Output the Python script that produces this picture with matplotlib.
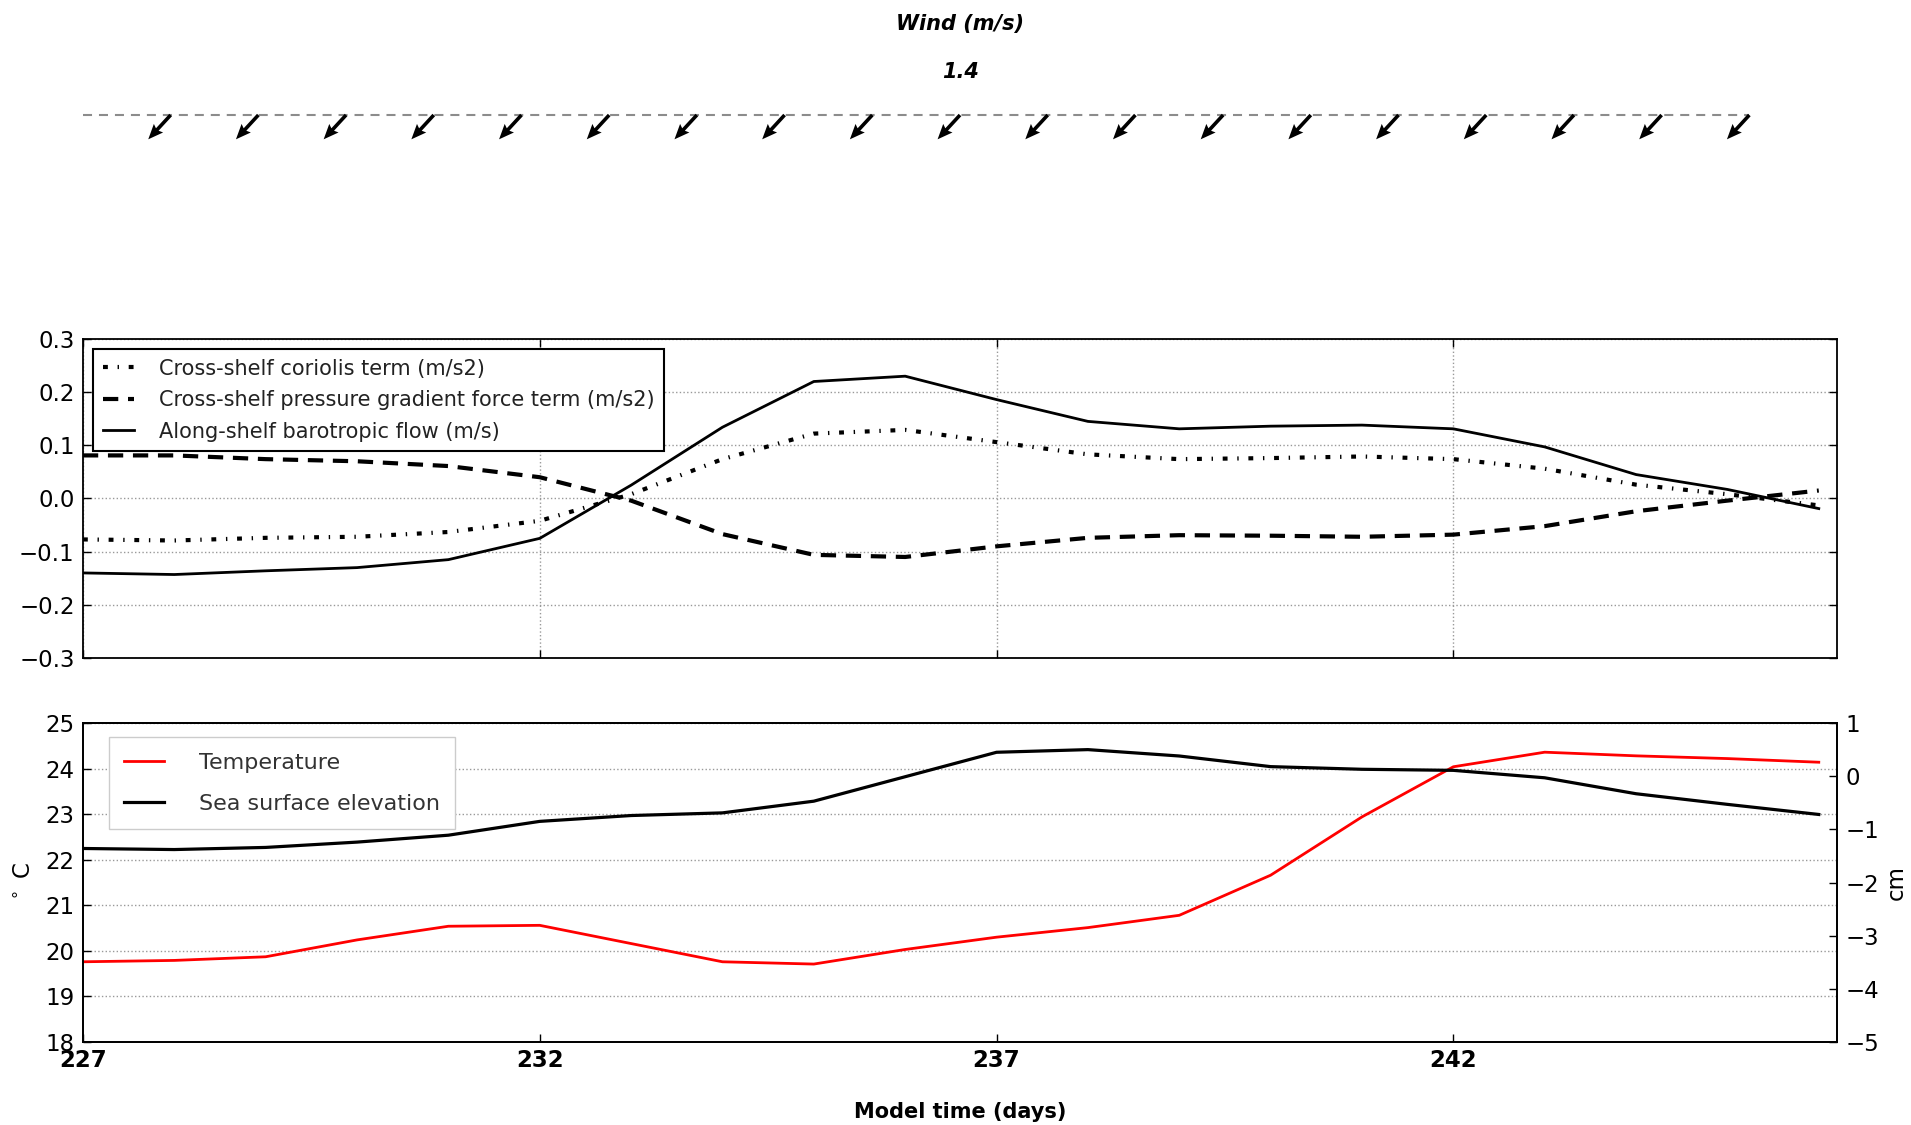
import numpy as np
import matplotlib
matplotlib.use("Agg")
import matplotlib.pyplot as plt

plt.rcParams['lines.scale_dashes'] = False
plt.rcParams['font.family'] = ['DejaVu Sans']

# model days (x)
days = [227, 228, 229, 230, 231, 232, 233, 234, 235, 236,
        237, 238, 239, 240, 241, 242, 243, 244, 245, 246]

# middle panel series
coriolis = [-0.077, -0.079, -0.074, -0.072, -0.063, -0.042, 0.008, 0.074, 0.122, 0.129,
            0.106, 0.083, 0.074, 0.076, 0.079, 0.074, 0.056, 0.026, 0.008, -0.013]
pgf = [0.081, 0.081, 0.074, 0.070, 0.061, 0.040, -0.004, -0.067, -0.106, -0.110,
       -0.090, -0.074, -0.069, -0.070, -0.072, -0.068, -0.052, -0.024, -0.004, 0.015]
flow = [-0.140, -0.143, -0.136, -0.130, -0.115, -0.075, 0.025, 0.134, 0.220, 0.230,
        0.186, 0.145, 0.131, 0.136, 0.138, 0.131, 0.097, 0.045, 0.017, -0.019]

# bottom panel series
temp = [19.76, 19.79, 19.87, 20.24, 20.54, 20.56, 20.16, 19.76, 19.71, 20.03,
        20.30, 20.51, 20.78, 21.66, 22.94, 24.04, 24.36, 24.28, 24.22, 24.14]
sse = [-1.36, -1.38, -1.34, -1.24, -1.11, -0.85, -0.74, -0.69, -0.47, -0.01,
       0.45, 0.50, 0.38, 0.18, 0.13, 0.11, -0.03, -0.33, -0.53, -0.72]

# wind vectors (m/s)
wind_days = [228, 229, 230, 231, 232, 233, 234, 235, 236, 237,
             238, 239, 240, 241, 242, 243, 244, 245, 246]
wind_u = [-0.95, -0.95, -0.95, -0.95, -0.95, -0.95, -0.95, -0.95, -0.95, -0.95,
          -0.95, -0.95, -0.95, -0.95, -0.95, -0.95, -0.95, -0.95, -0.95]
wind_v = [-1.03, -1.03, -1.03, -1.03, -1.03, -1.03, -1.03, -1.03, -1.03, -1.03,
          -1.03, -1.03, -1.03, -1.03, -1.03, -1.03, -1.03, -1.03, -1.03]
wind_speed = 1.4

xticks = [227, 232, 237, 242]
tick_fs = 16.5
grid_kw = dict(ls=':', color='#999999', lw=1)

fig = plt.figure(figsize=(19.11, 11.25), dpi=100)

# wind stick panel
ax_w = fig.add_axes([0.0434, 0.75, 0.9179, 0.25])
ax_w.axis('off')
ax_w.set_xlim(227, 247.0)
ax_w.set_ylim(-0.591, 0.409)
ax_w.plot([days[0], days[-1]], [0, 0], color='#8c8c8c', lw=1.5, dashes=(6.5, 5))
ax_w.quiver(wind_days, np.zeros(len(wind_days)), wind_u, wind_v, pivot='tail',
            angles='uv', units='inches', scale_units='inches', scale=wind_speed / 0.33,
            width=0.036, headwidth=3.5, headlength=4.2, headaxislength=3.7,
            color='black', zorder=3)
fig.text(0.5024, 0.9787, 'Wind (m/s)', ha='center', va='center', fontsize=15,
         fontweight='bold', fontstyle='italic')
fig.text(0.5024, 0.936, str(wind_speed), ha='center', va='center', fontsize=15,
         fontweight='bold', fontstyle='italic')

# middle panel
ax1 = fig.add_axes([0.0434, 0.4151, 0.9179, 0.2836])
ax1.plot(days, coriolis, color='k', lw=3, dashes=(3.5, 7, 1, 7),
         label='Cross-shelf coriolis term (m/s2)')
ax1.plot(days, pgf, color='k', lw=3, dashes=(11, 7),
         label='Cross-shelf pressure gradient force term (m/s2)')
ax1.plot(days, flow, color='k', lw=2.0, label='Along-shelf barotropic flow (m/s)')
ax1.set_xlim(227, 246.2)
ax1.set_ylim(-0.3, 0.3)
ax1.set_yticks([-0.3, -0.2, -0.1, 0.0, 0.1, 0.2, 0.3])
ax1.set_xticks(xticks)
ax1.tick_params(labelbottom=False)
ax1.tick_params(direction='in', length=6, width=1, right=True, top=True,
                labelsize=tick_fs, pad=6)
ax1.grid(True, **grid_kw)
for s in ax1.spines.values():
    s.set_linewidth(1.3)
leg1 = ax1.legend(loc='upper left', fontsize=15, fancybox=False, edgecolor='black',
                  framealpha=1, borderaxespad=0.5, handlelength=1.5,
                  handletextpad=1.2, labelspacing=0.55, borderpad=0.45,
                  labelcolor='#222222')
leg1.get_frame().set_linewidth(1.5)

# bottom panel
ax2 = fig.add_axes([0.0434, 0.0738, 0.9179, 0.2835])
ax3 = ax2.twinx()
l1, = ax2.plot(days, temp, color='red', lw=2.0, label='Temperature')
l2, = ax3.plot(days, sse, color='black', lw=2.3, label='Sea surface elevation')
ax2.set_xlim(227, 246.2)
ax2.set_ylim(18, 25)
ax2.set_yticks([18, 19, 20, 21, 22, 23, 24, 25])
ax3.set_ylim(-5, 1)
ax3.set_yticks([-5, -4, -3, -2, -1, 0, 1])
ax2.set_xticks(xticks)
ax2.set_xticklabels([str(t) for t in xticks], fontweight='bold', fontsize=14)
ax2.tick_params(direction='in', length=6, width=1, labelsize=tick_fs, pad=6)
ax2.tick_params(axis='x', pad=5)
ax3.tick_params(direction='in', length=6, width=1, labelsize=tick_fs, pad=6)
ax2.yaxis.grid(True, **grid_kw)
for s in list(ax2.spines.values()) + list(ax3.spines.values()):
    s.set_linewidth(1.3)

ax2.set_ylabel('$^\\circ$ C', fontsize=tick_fs)
ax2.yaxis.set_label_coords(-0.027, 0.5)
ax3.set_ylabel('cm', fontsize=tick_fs)
ax3.yaxis.set_label_coords(1.027, 0.5)
ax2.set_xlabel('Model time (days)', fontweight='bold', fontsize=15)
ax2.xaxis.set_label_coords(0.5, -0.188)

leg2 = ax3.legend([l1, l2], ['Temperature', 'Sea surface elevation'], loc='upper left',
                  bbox_to_anchor=(0.0148, 0.956), borderaxespad=0, fontsize=16,
                  fancybox=False, edgecolor='#cccccc', framealpha=1,
                  handlelength=1.8, handletextpad=1.55, labelspacing=0.95,
                  borderpad=0.7, labelcolor='#333333')
leg2.get_frame().set_linewidth(1.0)

fig.savefig('out.png', dpi=100)
